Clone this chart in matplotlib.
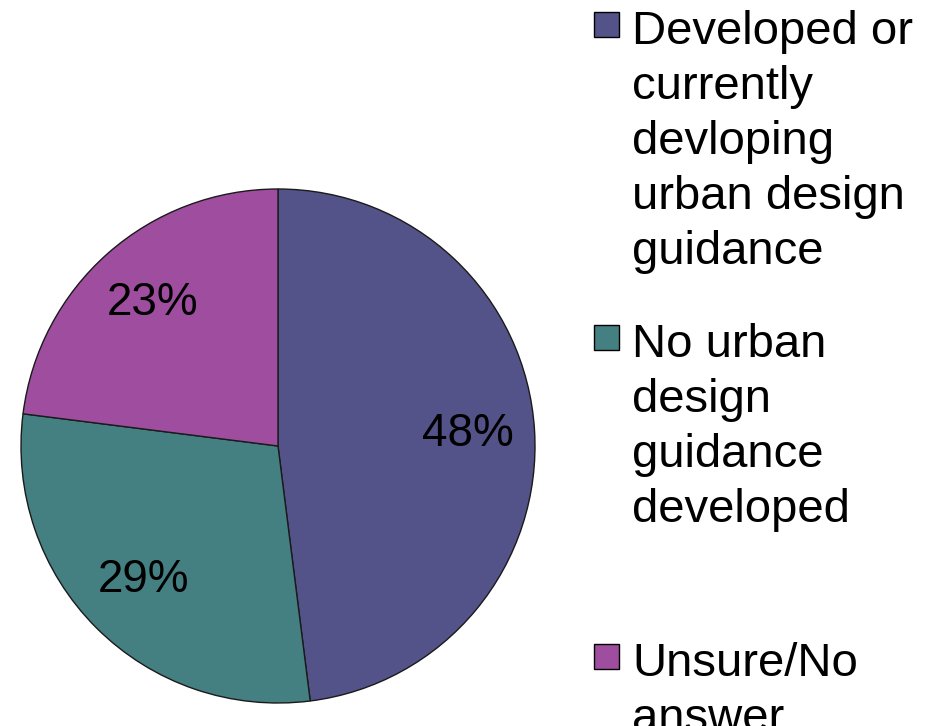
import matplotlib
matplotlib.use("Agg")
import matplotlib.pyplot as plt
from matplotlib.patches import Rectangle

labels = ["Developed or\ncurrently\ndevloping\nurban design\nguidance",
          "No urban\ndesign\nguidance\ndeveloped",
          "Unsure/No\nanswer"]
values = [48, 29, 23]
colors = ["#535389", "#447F82", "#9E4D9F"]

plt.rcParams['font.family'] = ['Liberation Sans', 'DejaVu Sans']

W, H = 933, 726
fig = plt.figure(figsize=(W / 100, H / 100), dpi=100)

cx, cy, r = 278, 446, 257
ax = fig.add_axes([(cx - r) / W, (H - cy - r) / H, 2 * r / W, 2 * r / H])
wedges, texts, autotexts = ax.pie(
    values, colors=colors, startangle=90, counterclock=False,
    autopct=lambda p: f"{p:.0f}%", pctdistance=0.74,
    wedgeprops=dict(edgecolor="#1a1a1a", linewidth=1.0),
    textprops=dict(fontsize=33, color="black"))
ax.set_xlim(-1, 1)
ax.set_ylim(-1, 1)
ax.set_aspect('equal')
ax.axis('off')

# legend
sq_x, sq_size = 594, 25
text_x = 632
tops = [10, 323, 642]
for lab, col, top in zip(labels, colors, tops):
    fig.patches.append(Rectangle(((sq_x) / W, 1 - (top + 2 + sq_size) / H),
                                 sq_size / W, sq_size / H,
                                 transform=fig.transFigure, facecolor=col,
                                 edgecolor="black", linewidth=1.0))
    fig.text(text_x / W, 1 - top / H, lab, fontsize=34, va='top', ha='left',
             linespacing=1.32, color='black')

fig.savefig("out.png", dpi=100)
